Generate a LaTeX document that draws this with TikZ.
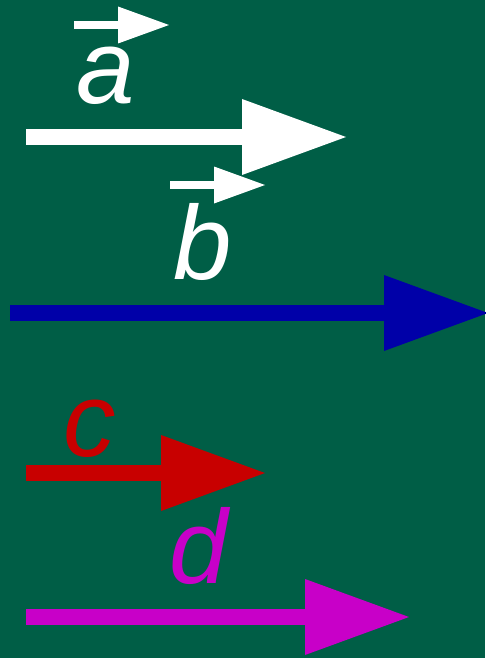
\documentclass[tikz,border=0pt]{standalone}
\usepackage{fontspec}
\setmainfont{Liberation Sans}
\usetikzlibrary{arrows.meta}

\definecolor{board}{RGB}{0,94,70}
\definecolor{vecblue}{RGB}{0,0,168}
\definecolor{vecred}{RGB}{200,0,0}
\definecolor{vecmag}{RGB}{200,0,200}

\tikzset{
    bigvec/.style={line width=16pt, -{Triangle[length=104pt, width=76pt, line width=0pt]}},
    smallvec/.style={line width=8pt, -{Triangle[length=51pt, width=37pt, line width=0pt]}},
    letter/.style={anchor=base, inner sep=0pt, font=\fontsize{105}{105}\selectfont\itshape}
}

\begin{document}
\begin{tikzpicture}[x=1pt, y=-1pt]
    % --- 1. 背景 ---
    \fill[board] (0,0) rectangle (485,658);
    \useasboundingbox (0,0) rectangle (485,658);

    % --- 2. 定義各向量的起點與終點 ---
    \coordinate (a_s) at (26,137);  \coordinate (a_e) at (346,137);
    \coordinate (b_s) at (10,313);  \coordinate (b_e) at (488,313);
    \coordinate (c_s) at (26,473);  \coordinate (c_e) at (265,473);
    \coordinate (d_s) at (26,617);  \coordinate (d_e) at (409,617);

    % --- 3. 標籤 a, b, c, d ---
    \node[letter, white] (lbl_a) at (106,104) {a};
    \node[letter, white] (lbl_b) at (203,279) {b};
    \node[letter, vecred] (lbl_c) at (90,456) {c};
    \node[letter, vecmag] (lbl_d) at (199,583) {d};

    % --- 4. 字母上方的小箭頭 ---
    \coordinate (va_s) at (74,25);   \coordinate (va_e) at (169,25);
    \coordinate (vb_s) at (170,185); \coordinate (vb_e) at (265,185);
    \draw[smallvec, white] (va_s) -- (va_e);
    \draw[smallvec, white] (vb_s) -- (vb_e);

    % --- 5. 繪製四個向量 ---
    \draw[bigvec, white] (a_s) -- (a_e);
    \draw[bigvec, vecblue] (b_s) -- (b_e);
    \draw[bigvec, vecred] (c_s) -- (c_e);
    \draw[bigvec, vecmag] (d_s) -- (d_e);

\end{tikzpicture}
\end{document}
